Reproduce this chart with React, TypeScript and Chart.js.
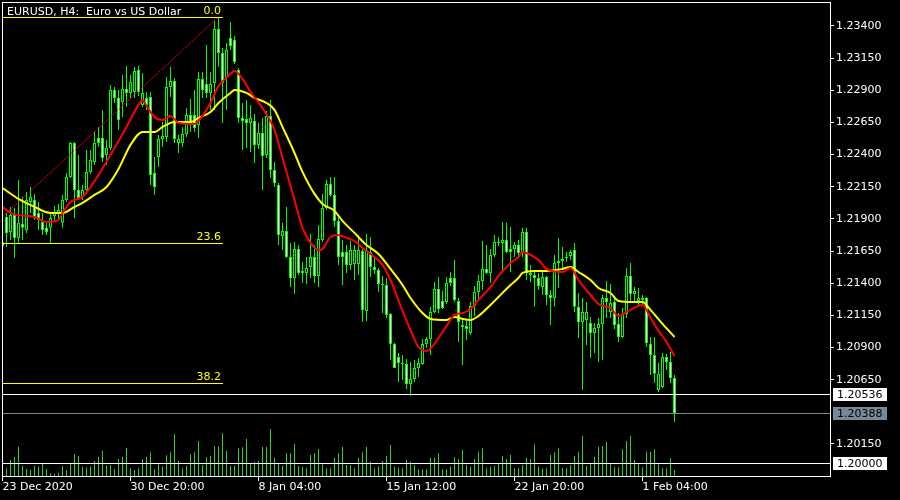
import React, { useEffect, useRef } from 'react';
import { Chart, registerables } from 'chart.js';

Chart.register(...registerables);

const TITLE = 'EURUSD, H4:  Euro vs US Dollar';

const OPEN = [1.21720,1.21915,1.21798,1.21930,1.21752,1.21861,1.21814,1.22031,1.22047,1.21946,
 1.21876,1.21830,1.21830,1.21922,1.21938,1.21869,1.22047,1.22226,1.22490,1.22125,
 1.22071,1.22125,1.22265,1.22343,1.22529,1.22529,1.22397,1.22451,1.22902,1.22840,
 1.22809,1.22910,1.22879,1.22887,1.23058,1.22786,1.22840,1.22848,1.22257,1.22381,
 1.22521,1.22537,1.22926,1.22972,1.22490,1.22490,1.22560,1.22708,1.22708,1.22630,
 1.22988,1.22949,1.22879,1.22957,1.23377,1.23190,1.22996,1.23307,1.23291,1.23058,
 1.22685,1.22677,1.22646,1.22661,1.22475,1.22568,1.22397,1.22700,1.22280,1.22164,
 1.21767,1.21806,1.21604,1.21441,1.21666,1.21495,1.21480,1.21526,1.21604,1.21456,
 1.21736,1.21985,1.22171,1.22086,1.21884,1.21643,1.21643,1.21542,1.21550,1.21550,
 1.21651,1.21184,1.21643,1.21526,1.21503,1.21386,1.21386,1.21161,1.20928,1.20827,
 1.20780,1.20772,1.20617,1.20656,1.20741,1.20772,1.20928,1.20967,1.21176,1.21355,
 1.21262,1.21254,1.21441,1.21441,1.21262,1.21075,1.21067,1.21013,1.21223,1.21332,
 1.21417,1.21511,1.21480,1.21619,1.21720,1.21713,1.21736,1.21666,1.21666,1.21697,
 1.21635,1.21798,1.21464,1.21464,1.21441,1.21370,1.21449,1.21308,1.21285,1.21557,
 1.21573,1.21596,1.21612,1.21658,1.21217,1.21099,1.21114,1.21091,1.21013,1.21052,
 1.21083,1.21285,1.21176,1.21254,1.21083,1.20982,1.21161,1.21456,1.21316,1.21262,
 1.21270,1.21285,1.20928,1.20842,1.20570,1.20593,1.20827,1.20788,1.20663];

const HIGH = [1.21775,1.21946,1.21993,1.21985,1.22203,1.22071,1.22109,1.22148,1.22094,1.22031,
 1.21946,1.21869,1.21954,1.22000,1.22016,1.22086,1.22257,1.22498,1.22498,1.22397,
 1.22164,1.22436,1.22436,1.22576,1.22615,1.22747,1.22514,1.22941,1.22926,1.22902,
 1.23019,1.23089,1.23019,1.23081,1.23089,1.23034,1.22887,1.22887,1.22381,1.22552,
 1.22653,1.23003,1.23081,1.22996,1.22552,1.22615,1.22762,1.22832,1.22902,1.23042,
 1.23042,1.23252,1.23042,1.23447,1.23470,1.23229,1.23268,1.23431,1.23322,1.23073,
 1.22801,1.22825,1.22786,1.22716,1.22646,1.22685,1.22739,1.22825,1.22343,1.22179,
 1.21869,1.21993,1.21713,1.21720,1.21697,1.21565,1.21604,1.21783,1.21697,1.21853,
 1.22094,1.22203,1.22226,1.22226,1.21915,1.21736,1.21697,1.21728,1.21697,1.21775,
 1.21674,1.21783,1.21759,1.21604,1.21518,1.21456,1.21441,1.21168,1.20935,1.20858,
 1.20842,1.20811,1.20788,1.20803,1.20819,1.20967,1.20982,1.21217,1.21410,1.21449,
 1.21339,1.21449,1.21487,1.21581,1.21285,1.21130,1.21114,1.21254,1.21378,1.21464,
 1.21728,1.21697,1.21666,1.21775,1.21759,1.21876,1.21869,1.21837,1.21720,1.21736,
 1.21830,1.21830,1.21542,1.21503,1.21480,1.21503,1.21456,1.21347,1.21619,1.21752,
 1.21682,1.21643,1.21658,1.21713,1.21324,1.21285,1.21254,1.21137,1.21091,1.21130,
 1.21308,1.21417,1.21394,1.21285,1.21168,1.21207,1.21518,1.21557,1.21370,1.21363,
 1.21308,1.21293,1.20982,1.20982,1.20780,1.20858,1.20850,1.20865,1.20687];

const LOW = [1.21596,1.21682,1.21736,1.21596,1.21705,1.21736,1.21791,1.21946,1.21892,1.21814,
 1.21775,1.21775,1.21713,1.21892,1.21892,1.21830,1.22031,1.22218,1.21907,1.22047,
 1.22047,1.22094,1.22249,1.22319,1.22459,1.22343,1.22319,1.22436,1.22801,1.22591,
 1.22692,1.22770,1.22840,1.22840,1.22856,1.22770,1.22747,1.22164,1.22086,1.22304,
 1.22459,1.22498,1.22848,1.22490,1.22412,1.22459,1.22537,1.22576,1.22576,1.22529,
 1.22840,1.22840,1.22747,1.22747,1.23081,1.22646,1.22747,1.23213,1.23104,1.22646,
 1.22436,1.22451,1.22420,1.22335,1.22443,1.22125,1.22374,1.22218,1.22148,1.21697,
 1.21658,1.21596,1.21370,1.21316,1.21464,1.21402,1.21394,1.21441,1.21402,1.21370,
 1.21720,1.21969,1.22071,1.21837,1.21542,1.21386,1.21480,1.21503,1.21425,1.21464,
 1.21099,1.21106,1.21449,1.21472,1.21332,1.21168,1.21130,1.20803,1.20741,1.20632,
 1.20648,1.20578,1.20523,1.20632,1.20671,1.20764,1.20896,1.20842,1.21168,1.21168,
 1.21200,1.21238,1.21378,1.21254,1.20943,1.20764,1.20959,1.20997,1.21145,1.21277,
 1.21347,1.21472,1.21402,1.21604,1.21689,1.21503,1.21635,1.21487,1.21604,1.21604,
 1.21604,1.21425,1.21410,1.21217,1.21347,1.21308,1.21231,1.21075,1.21217,1.21363,
 1.21503,1.21565,1.21581,1.21176,1.20974,1.20570,1.20920,1.20819,1.20858,1.20788,
 1.20803,1.21130,1.21130,1.21044,1.20943,1.20974,1.21130,1.21246,1.21246,1.21231,
 1.21231,1.20904,1.20687,1.20624,1.20554,1.20585,1.20725,1.20624,1.20321];

const CLOSE = [1.21689,1.21791,1.21930,1.21752,1.21869,1.21830,1.22047,1.22071,1.21915,1.21892,
 1.21814,1.21798,1.21907,1.21946,1.21969,1.22047,1.22226,1.22490,1.22125,1.22063,
 1.22125,1.22265,1.22358,1.22490,1.22490,1.22374,1.22451,1.22902,1.22840,1.22669,
 1.22910,1.22879,1.22964,1.23050,1.22887,1.22879,1.22786,1.22241,1.22148,1.22521,
 1.22545,1.22926,1.22972,1.22521,1.22521,1.22560,1.22708,1.22630,1.22607,1.22988,
 1.22902,1.22879,1.22949,1.23377,1.23190,1.22957,1.23213,1.23244,1.23120,1.22685,
 1.22661,1.22646,1.22685,1.22475,1.22568,1.22389,1.22700,1.22280,1.22179,1.21775,
 1.21806,1.21604,1.21441,1.21666,1.21480,1.21480,1.21518,1.21604,1.21456,1.21744,
 1.21985,1.22171,1.22086,1.21884,1.21604,1.21604,1.21542,1.21658,1.21658,1.21658,
 1.21192,1.21658,1.21526,1.21503,1.21394,1.21394,1.21153,1.20928,1.20741,1.20780,
 1.20772,1.20617,1.20656,1.20741,1.20780,1.20928,1.20967,1.21176,1.21355,1.21200,
 1.21207,1.21402,1.21402,1.21270,1.21099,1.21060,1.21044,1.21223,1.21332,1.21417,
 1.21511,1.21480,1.21619,1.21720,1.21713,1.21736,1.21643,1.21643,1.21697,1.21635,
 1.21798,1.21480,1.21480,1.21441,1.21378,1.21449,1.21308,1.21285,1.21557,1.21573,
 1.21588,1.21604,1.21643,1.21217,1.21099,1.21176,1.21176,1.21013,1.21052,1.21083,
 1.21285,1.21254,1.21246,1.21075,1.20982,1.21161,1.21456,1.21316,1.21339,1.21285,
 1.21285,1.20935,1.20842,1.20695,1.20695,1.20827,1.20788,1.20663,1.20388];

const VOLUME = [3600,4600,9600,11600,17600,6200,4200,3600,6200,5600,
 7600,4200,1600,1200,1800,6000,3600,7600,13000,12000,
 5600,5000,5600,9000,11600,15200,6200,6600,4200,10200,
 11600,16800,4600,3600,4600,10000,11600,14200,4000,7000,
 5600,12400,14200,25000,9000,4600,6200,13000,14200,21000,
 6600,11200,12200,17800,17800,25600,15000,6200,6200,16600,
 17200,22200,7000,8600,9000,17400,17400,28200,11000,7000,
 6200,13600,13600,19200,6000,5600,5000,12600,13600,16200,
 7000,4600,4600,11000,13600,17400,6600,6600,4600,11000,
 14200,17400,8600,4600,5600,9000,12200,18600,5600,5000,
 5000,9600,8600,6600,4000,4000,4000,11000,11000,13600,
 4000,4000,5600,11200,10200,15600,6600,5600,10200,14600,
 16600,4600,5600,6200,7600,12000,10200,12600,4600,4600,
 6600,11000,10200,19000,5600,4600,4600,12600,14200,16600,
 5000,4600,6600,12000,14600,24000,6000,7000,11600,17600,
 18000,20600,7600,5200,5200,16000,21000,24000,9600,7000,
 5200,14600,14600,16000,7000,4600,4600,10600,3600];

const RED_MA_IDX = [0,2,4,8,11,14,15,17,20,22,24,28,31,34,35,36,38,40,42,44,48,49,52,54,56,58,60,62,65,68,70,73,75,77,79,80,82,84,86,88,90,92,95,97,100,102,104,106,108,109,111,113,115,117,119,122,124,127,129,130,131,134,136,140,142,144,147,149,152,154,156,160,162,164,166,168];
const RED_MA = [1.21993,1.21946,1.21930,1.21915,1.21876,1.21892,1.21946,1.22031,1.22071,1.22148,
 1.22241,1.22451,1.22615,1.22786,1.22825,1.22778,1.22692,1.22669,1.22700,1.22646,
 1.22638,1.22661,1.22801,1.22933,1.22996,1.23050,1.22988,1.22887,1.22762,1.22591,
 1.22374,1.22047,1.21830,1.21713,1.21658,1.21666,1.21759,1.21775,1.21752,1.21728,
 1.21674,1.21627,1.21542,1.21425,1.21184,1.21036,1.20904,1.20873,1.20928,1.20974,
 1.21067,1.21153,1.21168,1.21200,1.21270,1.21370,1.21456,1.21557,1.21604,1.21643,
 1.21635,1.21581,1.21511,1.21487,1.21518,1.21425,1.21308,1.21238,1.21207,1.21145,
 1.21176,1.21231,1.21130,1.21029,1.20943,1.20834];

const YEL_MA_IDX = [0,4,8,12,15,18,20,23,26,29,32,35,38,40,43,47,49,52,54,57,58,61,63,66,68,70,73,75,78,80,83,85,88,91,94,97,100,102,105,107,111,113,115,117,119,122,124,127,129,130,133,136,140,142,144,147,149,152,154,158,160,162,165,168];
const YEL_MA = [1.22140,1.22055,1.21993,1.21946,1.21946,1.21993,1.22024,1.22086,1.22148,1.22288,
 1.22475,1.22576,1.22576,1.22615,1.22653,1.22653,1.22685,1.22731,1.22801,1.22879,
 1.22902,1.22879,1.22840,1.22801,1.22747,1.22615,1.22412,1.22265,1.22094,1.22016,
 1.21962,1.21884,1.21791,1.21697,1.21627,1.21511,1.21386,1.21285,1.21168,1.21122,
 1.21114,1.21137,1.21122,1.21114,1.21145,1.21231,1.21293,1.21386,1.21441,1.21480,
 1.21495,1.21495,1.21511,1.21526,1.21487,1.21425,1.21363,1.21324,1.21262,1.21254,
 1.21254,1.21192,1.21083,1.20982];

const X_TICK_IDX = [0, 32, 64, 96, 128, 160];
const X_TICK_LABELS = ['23 Dec 2020', '30 Dec 20:00', '8 Jan 04:00', '15 Jan 12:00', '22 Jan 20:00', '1 Feb 04:00'];
const Y_TICKS = [1.234, 1.2315, 1.229, 1.2265, 1.224, 1.2215, 1.219, 1.2165, 1.214, 1.2115, 1.209, 1.2065, 1.2015];

const FIB_LABELS = ['0.0', '23.6', '38.2'];
const FIB_RATIOS = [0, 0.236, 0.382];
const FIB_HIGH = 1.2347;
const FIB_LOW = 1.16025;
const FIB_END_IDX = 55;
const TREND_IDX = [0, 54];
const TREND_PRICE = [1.21915, 1.2347];

const LEVEL_PRICES = [1.20536, 1.20388, 1.2];
const LEVEL_COLORS = ['#ffffff', '#778899', '#ffffff'];

const Y_MIN = 1.19901;
const Y_MAX = 1.23586;
const VOL_MAX = 284400;

const FONT_FAMILY = 'DejaVu Sans';
const FONT = '11px "DejaVu Sans"';

const overlayPlugin = {
  id: 'mt4Overlay',
  beforeDraw(chart: any) {
    const c = chart.ctx;
    c.save();
    c.fillStyle = '#000000';
    c.fillRect(0, 0, chart.width, chart.height);
    c.restore();
  },
  afterDatasetsDraw(chart: any) {
    const { ctx, chartArea: a, scales } = chart;
    const ys = scales.y;
    const xs = scales.x;
    ctx.save();
    ctx.font = FONT;
    ctx.textAlign = 'right';
    ctx.textBaseline = 'alphabetic';
    const fx1 = Math.round(xs.getPixelForValue(FIB_END_IDX));
    FIB_RATIOS.forEach((r, k) => {
      const p = FIB_HIGH - (FIB_HIGH - FIB_LOW) * r;
      const py = Math.round(ys.getPixelForValue(p));
      ctx.fillStyle = '#ffff00';
      ctx.fillRect(a.left, py, fx1 - a.left, 1);
      ctx.fillText(FIB_LABELS[k], fx1 - 2, py - 3);
    });
    LEVEL_PRICES.forEach((p, k) => {
      const py = Math.round(ys.getPixelForValue(p));
      ctx.fillStyle = LEVEL_COLORS[k];
      ctx.fillRect(a.left, py, a.right - a.left, 1);
    });
    ctx.restore();
  },
  afterDraw(chart: any) {
    const { ctx, chartArea: a, scales } = chart;
    const ys = scales.y;
    ctx.save();
    ctx.fillStyle = '#ffffff';
    const l = Math.round(a.left), r = Math.round(a.right), t = Math.round(a.top), b = Math.round(a.bottom);
    ctx.fillRect(l, t, r - l + 1, 1);
    ctx.fillRect(l, b, r - l + 1, 1);
    ctx.fillRect(l, t, 1, b - t + 1);
    ctx.fillRect(r, t, 1, b - t + 1);
    ctx.font = FONT;
    ctx.textAlign = 'left';
    ctx.textBaseline = 'alphabetic';
    ctx.fillText(TITLE, 7, 15);
    LEVEL_PRICES.forEach((p, k) => {
      const py = Math.round(ys.getPixelForValue(p));
      ctx.fillStyle = LEVEL_COLORS[k];
      ctx.fillRect(r + 3, py - 6, 54, 13);
      ctx.fillStyle = '#000000';
      ctx.textBaseline = 'middle';
      ctx.fillText(p.toFixed(5), r + 7, py + 1);
    });
    ctx.restore();
  },
};

export default function App() {
  const ref = useRef<HTMLCanvasElement>(null);
  useEffect(() => {
    const n = CLOSE.length;
    const idx = Array.from({ length: n }, (_, i) => i);
    const wicks = idx.map((i) => ({
      x: i,
      y: [Math.min(LOW[i], OPEN[i], CLOSE[i]), Math.max(HIGH[i], OPEN[i], CLOSE[i])],
    }));
    const bodies = idx.map((i) => ({ x: i, y: [OPEN[i], CLOSE[i]] }));
    const bodyColors = idx.map((i) => (CLOSE[i] < OPEN[i] ? '#ffffff' : '#000000'));
    const vols = idx.map((i) => ({ x: i, y: VOLUME[i] }));
    const red = RED_MA_IDX.map((x, k) => ({ x, y: RED_MA[k] }));
    const yel = YEL_MA_IDX.map((x, k) => ({ x, y: YEL_MA[k] }));
    const trend = TREND_IDX.map((x, k) => ({ x, y: TREND_PRICE[k] }));

    const chart = new Chart(ref.current as HTMLCanvasElement, {
      type: 'bar',
      data: {
        datasets: [
          {
            type: 'bar',
            data: vols as any,
            yAxisID: 'yv',
            backgroundColor: '#32cd32',
            barThickness: 1,
            grouped: false,
            inflateAmount: 0,
            borderWidth: 0,
            order: 20,
          } as any,
          {
            type: 'bar',
            data: wicks as any,
            yAxisID: 'y',
            backgroundColor: '#00ff00',
            barThickness: 1,
            grouped: false,
            inflateAmount: 0,
            borderWidth: 0,
            minBarLength: 1,
            order: 19,
          } as any,
          {
            type: 'bar',
            data: bodies as any,
            yAxisID: 'y',
            backgroundColor: bodyColors,
            borderColor: '#00ff00',
            borderWidth: 1,
            borderSkipped: false,
            barThickness: 3,
            grouped: false,
            inflateAmount: 0,
            minBarLength: 1,
            order: 18,
          } as any,
          {
            type: 'line',
            data: trend as any,
            yAxisID: 'y',
            borderColor: '#ff0000',
            borderWidth: 1,
            borderDash: [2, 1],
            pointRadius: 0,
            order: 10,
          } as any,
          {
            type: 'line',
            data: yel as any,
            yAxisID: 'y',
            borderColor: '#ffff00',
            borderWidth: 2,
            pointRadius: 0,
            cubicInterpolationMode: 'monotone',
            order: 6,
          } as any,
          {
            type: 'line',
            data: red as any,
            yAxisID: 'y',
            borderColor: '#ff0000',
            borderWidth: 2,
            pointRadius: 0,
            cubicInterpolationMode: 'monotone',
            order: 5,
          } as any,
        ],
      },
      options: {
        responsive: false,
        animation: false,
        events: [],
        layout: { padding: { left: 2, top: 2, right: 0, bottom: 0 } },
        plugins: { legend: { display: false }, tooltip: { enabled: false } },
        scales: {
          x: {
            type: 'linear',
            min: -0.125,
            max: 206.875,
            offset: false,
            bounds: 'data',
            afterBuildTicks: (s: any) => {
              s.ticks = X_TICK_IDX.map((v) => ({ value: v }));
            },
            afterFit: (s: any) => {
              s.height = 24;
              s.paddingLeft = 0;
              s.paddingRight = 0;
            },
            ticks: {
              color: '#ffffff',
              font: { family: FONT_FAMILY, size: 11 },
              align: 'start',
              maxRotation: 0,
              minRotation: 0,
              autoSkip: false,
              padding: 0,
              callback: (v: any) => {
                const k = X_TICK_IDX.indexOf(Number(v));
                return k >= 0 ? X_TICK_LABELS[k] : '';
              },
            },
            grid: { offset: false, drawOnChartArea: false, drawTicks: true, tickLength: 5, color: '#ffffff' },
            border: { display: false },
          } as any,
          y: {
            type: 'linear',
            position: 'right',
            min: Y_MIN,
            max: Y_MAX,
            bounds: 'data',
            afterBuildTicks: (s: any) => {
              s.ticks = Y_TICKS.map((v) => ({ value: v }));
            },
            afterFit: (s: any) => {
              s.width = 70;
              s.paddingTop = 0;
              s.paddingBottom = 0;
            },
            ticks: {
              color: '#ffffff',
              font: { family: FONT_FAMILY, size: 11 },
              padding: 2,
              autoSkip: false,
              callback: (v: any) => Number(v).toFixed(5),
            },
            grid: { drawOnChartArea: false, drawTicks: true, tickLength: 4, color: '#ffffff' },
            border: { display: false },
          } as any,
          yv: {
            type: 'linear',
            display: false,
            min: 0,
            max: VOL_MAX,
          } as any,
        },
      },
      plugins: [overlayPlugin as any],
    });
    return () => chart.destroy();
  }, []);

  return (
    <div style={{ position: 'fixed', left: 0, top: 0, width: 900, height: 500, background: '#000000' }}>
      <canvas ref={ref} width={900} height={500} style={{ display: 'block' }} />
    </div>
  );
}
